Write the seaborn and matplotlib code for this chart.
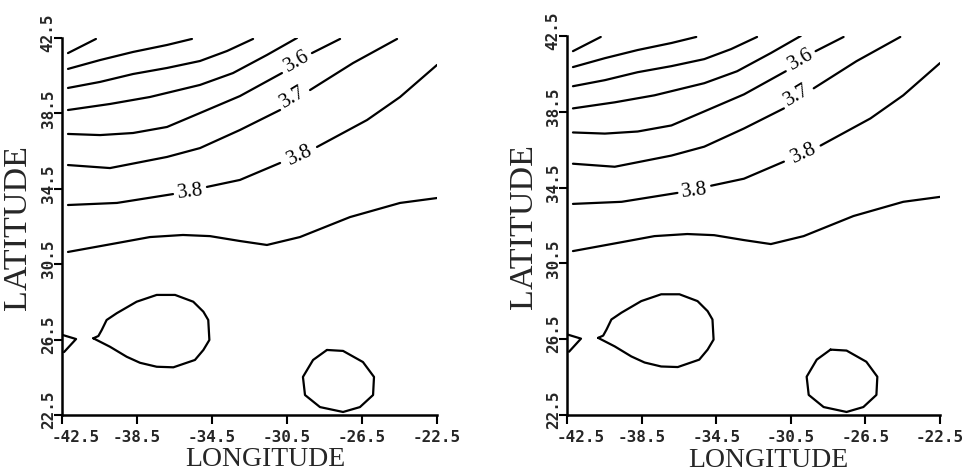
import matplotlib
matplotlib.use("Agg")
import matplotlib.pyplot as plt
import matplotlib.transforms as mtransforms
import numpy as np
import pandas as pd
import seaborn as sns

# ---- axis ticks -------------------------------------------------------
lon_ticks = [-42.5, -38.5, -34.5, -30.5, -26.5, -22.5]
lat_ticks = [22.5, 26.5, 30.5, 34.5, 38.5, 42.5]
lon_tick_labels = ["-42.5", "-38.5", "-34.5", "-30.5", "-26.5", "-22.5"]
lat_tick_labels = ["22.5", "26.5", "30.5", "34.5", "38.5", "42.5"]

# ---- contour lines (lon, lat), split where a level label sits ----------
top1_lon = [-42.18, -40.69]
top1_lat = [41.70, 42.45]

top2_lon = [-42.18, -40.47, -38.71, -36.90, -35.57]
top2_lat = [40.86, 41.33, 41.76, 42.13, 42.45]

top3_lon = [-42.18, -40.47, -38.71, -36.90, -35.14, -33.70, -32.31]
top3_lat = [39.85, 40.17, 40.59, 40.91, 41.28, 41.81, 42.45]

top4_lon = [-42.18, -39.94, -37.81, -35.14, -33.38, -31.57, -29.97]
top4_lat = [38.68, 39.00, 39.37, 40.01, 40.64, 41.60, 42.50]

c36a_lon = [-42.18, -40.47, -38.71, -36.90, -35.14, -33.01, -30.77]
c36a_lat = [37.41, 37.35, 37.46, 37.78, 38.52, 39.42, 40.64]
c36b_lon = [-29.17, -27.67]
c36b_lat = [41.70, 42.45]

c37a_lon = [-42.18, -39.94, -36.90, -35.14, -33.01, -30.87]
c37a_lat = [35.76, 35.60, 36.19, 36.66, 37.62, 38.68]
c37b_lon = [-29.27, -26.98, -24.63]
c37b_lat = [39.74, 41.17, 42.45]

c38a_lon = [-42.18, -39.57, -36.58]
c38a_lat = [33.64, 33.75, 34.22]
c38b_lon = [-34.77, -33.01, -30.87]
c38b_lat = [34.60, 34.97, 35.87]
c38c_lon = [-28.90, -26.23, -24.47, -22.50]
c38c_lat = [36.72, 38.15, 39.37, 41.07]

low_lon = [-42.18, -39.57, -37.81, -36.05, -34.61, -33.01, -31.57, -29.81,
           -27.14, -24.47, -22.50]
low_lat = [31.15, 31.62, 31.94, 32.05, 31.99, 31.73, 31.52, 31.94,
           33.00, 33.75, 34.01]

drop_lon = [-40.83, -40.56, -40.38, -40.12, -39.58, -38.52, -37.45, -36.47,
            -35.50, -34.96, -34.70, -34.64, -34.96, -35.41, -36.56, -37.45,
            -38.34, -39.05, -39.94, -40.83]
drop_lat = [26.57, 26.69, 27.01, 27.54, 27.90, 28.51, 28.87, 28.87,
            28.51, 27.98, 27.54, 26.48, 25.95, 25.42, 25.03, 25.06,
            25.27, 25.59, 26.12, 26.57]

edge_lon = [-42.45, -41.75, -42.39]
edge_lat = [26.74, 26.53, 25.84]

ring_lon = [-28.37, -27.51, -26.45, -25.86, -25.91, -26.61, -27.51, -28.74,
            -29.54, -29.65, -29.11, -28.37]
ring_lat = [25.95, 25.90, 25.31, 24.52, 23.56, 22.92, 22.66, 22.92,
            23.56, 24.52, 25.42, 25.95]

# ---- level labels ------------------------------------------------------
label_level = [3.6, 3.7, 3.8, 3.8]
label_lon = [-29.97, -30.18, -29.81, -35.67]
label_lat = [41.23, 39.37, 36.29, 34.33]
label_rot = [30, 31, 25, 7]

segments = [
    (top1_lon, top1_lat), (top2_lon, top2_lat), (top3_lon, top3_lat),
    (top4_lon, top4_lat), (c36a_lon, c36a_lat), (c36b_lon, c36b_lat),
    (c37a_lon, c37a_lat), (c37b_lon, c37b_lat), (c38a_lon, c38a_lat),
    (c38b_lon, c38b_lat), (c38c_lon, c38c_lat), (low_lon, low_lat),
    (drop_lon, drop_lat), (edge_lon, edge_lat), (ring_lon, ring_lat),
]
lines = pd.concat(
    [pd.DataFrame({"lon": lo, "lat": la, "seg": i, "order": np.arange(len(lo))})
     for i, (lo, la) in enumerate(segments)],
    ignore_index=True,
)

sns.set_style("ticks")
plt.rcParams["font.family"] = ["DejaVu Sans"]

W, H = 964, 475
fig = plt.figure(figsize=(W / 100, H / 100), dpi=100)
ax_left = fig.add_axes([62 / W, 60 / H, 375 / W, 377 / H])
ax_right = fig.add_axes([567 / W, 60 / H, 373 / W, 379 / H])

tick_font = dict(family="DejaVu Sans Mono", weight="bold", size=11.5)

for ax in (ax_left, ax_right):
    sns.lineplot(data=lines, x="lon", y="lat", units="seg", estimator=None,
                 sort=False, color="black", linewidth=1.6, ax=ax, legend=False)
    for lev, lo, la, rot in zip(label_level, label_lon, label_lat, label_rot):
        ax.text(lo, la, f"{lev:.1f}", rotation=rot, ha="center", va="center",
                rotation_mode="anchor", family="Liberation Serif", size=15,
                color="black")

    ax.set_xlim(-42.5, -22.5)
    ax.set_ylim(22.5, 42.5)
    ax.set_xticks(lon_ticks)
    ax.set_yticks(lat_ticks)
    ax.set_xticklabels(lon_tick_labels, fontdict=tick_font)
    ax.set_yticklabels(lat_tick_labels, fontdict=tick_font, rotation=90,
                       va="center")
    ax.tick_params(axis="x", direction="out", length=6.5, width=1.5,
                   color="black", pad=4)
    ax.tick_params(axis="y", direction="out", length=5.5, width=1.5,
                   color="black", pad=-1)
    sns.despine(ax=ax)
    for side in ("left", "bottom"):
        ax.spines[side].set_linewidth(1.8)
        ax.spines[side].set_color("black")

    ax.set_xlabel("LONGITUDE", family="Liberation Serif", size=20)
    ax.set_ylabel("LATITUDE", family="Liberation Serif", size=24.5)
    ax.xaxis.set_label_coords(0.541, -0.119)
    ax.xaxis.label.set_verticalalignment("center")
    ax.yaxis.set_label_coords(-0.117, 0.497)
    ax.yaxis.label.set_verticalalignment("center")
    ax.yaxis.label.set_horizontalalignment("center")

fig.canvas.draw()
for ax in (ax_left, ax_right):
    up = mtransforms.ScaledTranslation(0, 5 / 100, fig.dpi_scale_trans)
    for lab in ax.get_yticklabels():
        lab.set_transform(lab.get_transform() + up)
    first = ax.get_xticklabels()[0]
    right = mtransforms.ScaledTranslation(14 / 100, 0, fig.dpi_scale_trans)
    first.set_transform(first.get_transform() + right)

fig.savefig("out.png", dpi=100, facecolor="white")
